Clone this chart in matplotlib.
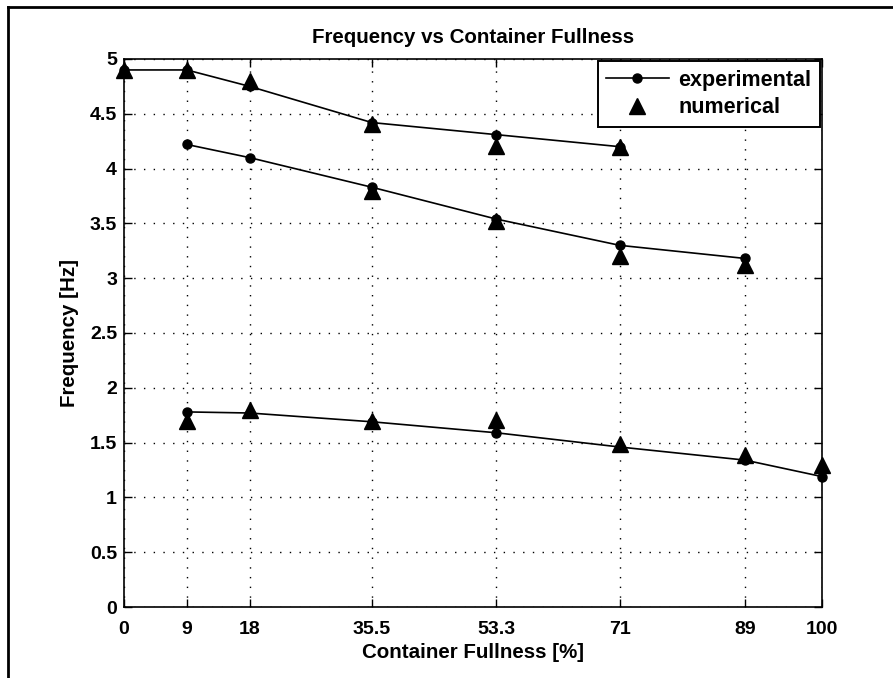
import matplotlib.pyplot as plt
from matplotlib.lines import Line2D

# fill levels [%] and measured / computed frequencies [Hz] for each mode
fill_levels = [0, 9, 18, 35.5, 53.3, 71, 89, 100]

mode1_x = [0, 9, 18, 35.5, 53.3, 71]
mode1_exp = [4.9, 4.9, 4.75, 4.42, 4.31, 4.2]
mode1_num = [4.9, 4.9, 4.8, 4.41, 4.21, 4.2]

mode2_x = [9, 18, 35.5, 53.3, 71, 89]
mode2_exp = [4.22, 4.10, 3.83, 3.54, 3.30, 3.18]
mode2_num_x = [35.5, 53.3, 71, 89]
mode2_num = [3.80, 3.52, 3.20, 3.12]

mode3_x = [9, 18, 35.5, 53.3, 71, 89, 100]
mode3_exp = [1.78, 1.77, 1.69, 1.59, 1.46, 1.34, 1.19]
mode3_num = [1.70, 1.80, 1.70, 1.71, 1.49, 1.39, 1.30]

y_ticks = [0, 0.5, 1, 1.5, 2, 2.5, 3, 3.5, 4, 4.5, 5]
y_labels = ['0', '0.5', '1', '1.5', '2', '2.5', '3', '3.5', '4', '4.5', '5']
x_labels = ['0', '9', '18', '35.5', '53.3', '71', '89', '100']

plt.rcParams['font.family'] = ['Liberation Sans', 'DejaVu Sans']
plt.rcParams['font.weight'] = 'bold'

fig = plt.figure(figsize=(8.93, 6.78), dpi=100)
ax = fig.add_axes([0.1389, 0.1047, 0.7816, 0.8083])

exp_style = dict(color='black', linewidth=1.2, marker='o', markersize=6.5)
num_style = dict(color='black', linestyle='none', marker='^', markersize=11)

# markers at the axis limits stay visible past the frame
ax.plot(mode1_x, mode1_num, clip_on=False, **num_style)
ax.plot(mode2_num_x, mode2_num, clip_on=False, **num_style)
ax.plot(mode3_x, mode3_num, clip_on=False, **num_style)
ax.plot(mode1_x, mode1_exp, clip_on=False, **exp_style)
ax.plot(mode2_x, mode2_exp, clip_on=False, **exp_style)
ax.plot(mode3_x, mode3_exp, clip_on=False, **exp_style)

ax.set_xlim(0, 100)
ax.set_ylim(0, 5)
ax.set_xticks(fill_levels)
ax.set_xticklabels(x_labels)
ax.set_yticks(y_ticks)
ax.set_yticklabels(y_labels)
ax.tick_params(direction='in', length=6, width=1, top=True, right=True,
               labelsize=14)
ax.tick_params(axis='x', pad=10)
ax.tick_params(axis='y', pad=5)
for s in ax.spines.values():
    s.set_linewidth(1.2)

ax.grid(True, color='black', linestyle=(0, (1, 6)), linewidth=1)

ax.set_title('Frequency vs Container Fullness', fontsize=14.8,
             fontweight='bold', pad=11.5)
ax.set_xlabel('Container Fullness [%]', fontsize=14.8, fontweight='bold',
              labelpad=4)
ax.set_ylabel('Frequency [Hz]', fontsize=14.8, fontweight='bold', labelpad=8)

handles = [Line2D([], [], **exp_style), Line2D([], [], **num_style)]
leg = ax.legend(handles, ['experimental', 'numerical'], loc='upper right',
                prop={'size': 15.5, 'weight': 'bold'}, fancybox=False,
                framealpha=1, edgecolor='black', borderaxespad=0.1,
                handlelength=2.9, handletextpad=0.45, labelspacing=0.3,
                borderpad=0.4)
leg.get_frame().set_linewidth(1.4)

# outer border, left and top edges only
fig.add_artist(Line2D([8 / 893, 8 / 893], [0, 1 - 7 / 678], color='black',
                      linewidth=2, transform=fig.transFigure))
fig.add_artist(Line2D([8 / 893, 1], [1 - 7 / 678, 1 - 7 / 678], color='black',
                      linewidth=2, transform=fig.transFigure))

fig.savefig('out.png', dpi=100)
